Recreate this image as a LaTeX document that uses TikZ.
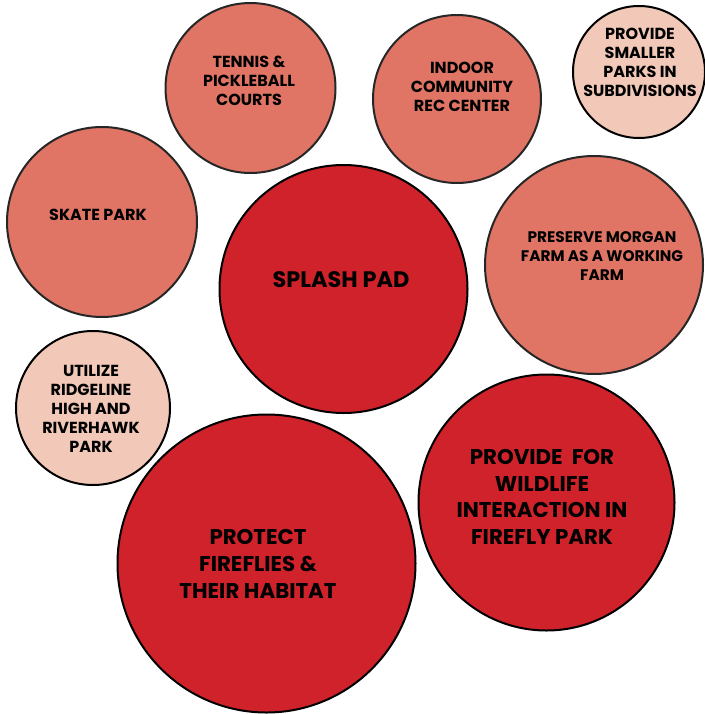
\documentclass[tikz,border=0pt]{standalone}
\usepackage{fontspec}
\setmainfont{Poppins}
\definecolor{hotred}{HTML}{D0222A}
\definecolor{salmon}{HTML}{E07565}
\definecolor{blush}{HTML}{F2C9B8}
\begin{document}
\begin{tikzpicture}[x=0.75pt,y=-0.75pt,
  bubble/.style={circle,draw=black!85,line width=1.5pt,inner sep=0pt},
  hot/.style={bubble,fill=hotred,draw=black},
  mid/.style={bubble,fill=salmon},
  soft/.style={bubble,fill=blush,draw=black},
  small/.style={align=center,font=\bfseries\fontsize{12}{14.3}\selectfont,inner sep=0pt},
  big/.style={align=center,font=\bfseries\fontsize{16}{20}\selectfont,inner sep=0pt}]
\useasboundingbox (0,0) rectangle (705,714);
% circles
\node[mid, minimum size=170*0.75pt] (tennis) at (250.5,88) {};
\node[mid, minimum size=168*0.75pt] (indoor) at (457,99) {};
\node[soft, minimum size=132*0.75pt] (smaller) at (639,72) {};
\node[mid, minimum size=190*0.75pt] (skate) at (102,222) {};
\node[hot, minimum size=248*0.75pt] (splash) at (343.5,289) {};
\node[mid, minimum size=218*0.75pt] (morgan) at (594,265) {};
\node[soft, minimum size=154*0.75pt] (ridge) at (93,408) {};
\node[hot, minimum size=298*0.75pt] (fireflies) at (266.5,563.5) {};
\node[hot, minimum size=256*0.75pt] (wildlife) at (546.5,502.5) {};
% labels
\node[small] (tennisT) at (249,81) {TENNIS \&\\PICKLEBALL\\COURTS};
\node[small] (indoorT) at (462,87) {INDOOR\\COMMUNITY\\REC CENTER};
\node[small] (smallerT) at (640,62) {PROVIDE\\SMALLER\\PARKS IN\\SUBDIVISIONS};
\node[small] (skateT) at (98,215) {SKATE PARK};
\node[big,font=\bfseries\fontsize{16.8}{20}\selectfont] (splashT) at (341,280) {SPLASH PAD};
\node[small,font=\bfseries\fontsize{11.5}{14.3}\selectfont] (morganT) at (602,256) {PRESERVE MORGAN\\FARM AS A WORKING\\FARM};
\node[small] (ridgeT) at (91,409) {UTILIZE\\RIDGELINE\\HIGH AND\\RIVERHAWK\\PARK};
\node[big] (firefliesT) at (258,564) {PROTECT\\FIREFLIES \&\\THEIR HABITAT};
\node[big] (wildlifeT) at (542,497) {PROVIDE~~FOR\\WILDLIFE\\INTERACTION IN\\FIREFLY PARK};
\end{tikzpicture}
\end{document}
